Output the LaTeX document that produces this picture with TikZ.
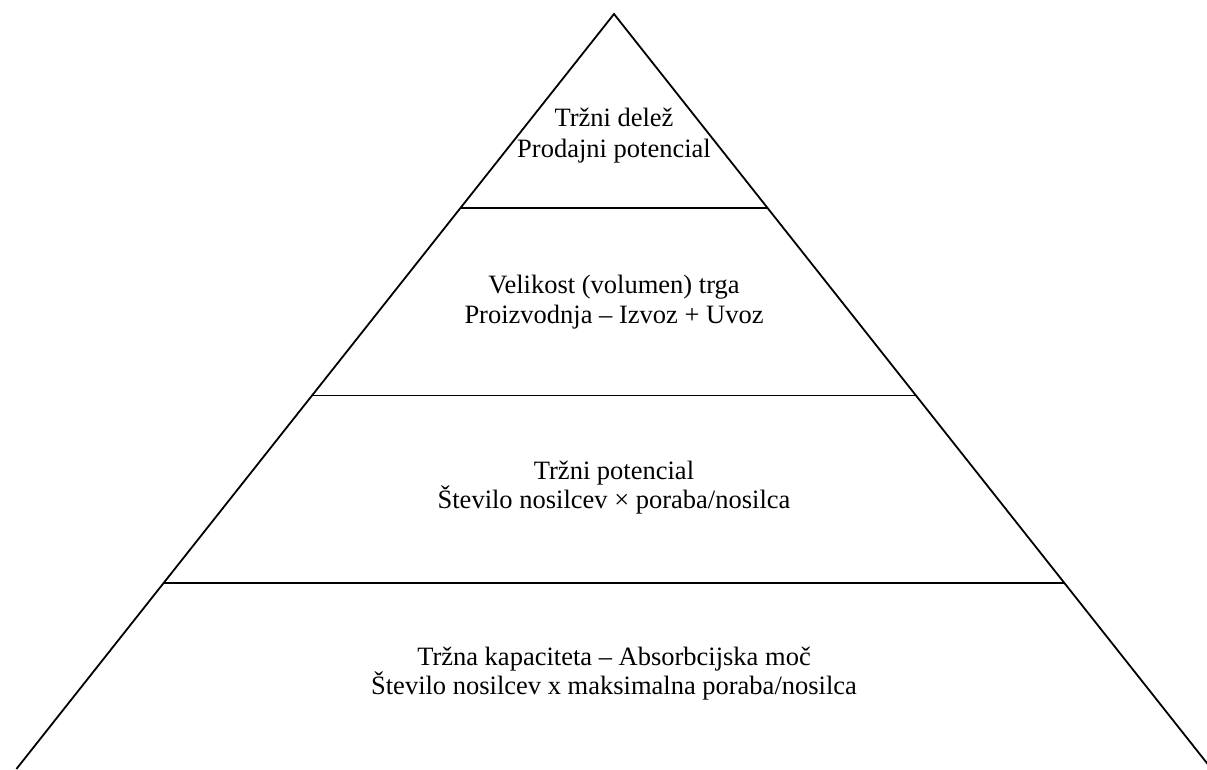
\documentclass[tikz,border=0pt]{standalone}
\usepackage{fontspec}
\setmainfont{Liberation Serif}
\begin{document}
\begin{tikzpicture}[x=1pt,y=-1pt,
  edge/.style={line width=1.8pt,line join=miter},
  label/.style={anchor=base,inner sep=0pt,font=\fontsize{26.5pt}{30pt}\selectfont}]
\useasboundingbox (0,0) rectangle (1207,769);
\clip (0,0) rectangle (1207,769);
% pyramid outline
\coordinate (apex) at (614,14);
\coordinate (bl) at (16.4,769);
\coordinate (br) at (1211.6,769);
\draw[edge] (bl) -- (apex) -- (br);
% level dividers
\coordinate (l1) at (460.4,208);   \coordinate (r1) at (767.6,208);
\coordinate (l2) at (312.1,395.5); \coordinate (r2) at (915.9,395.5);
\coordinate (l3) at (163.6,583);   \coordinate (r3) at (1064.4,583);
\draw[edge] (l1) -- (r1);
\draw[edge] (l2) -- (r2);
\draw[edge] (l3) -- (r3);
% level texts
\node[label] (t1a) at (614,126) {Tržni delež};
\node[label] (t1b) at (614,157) {Prodajni potencial};
\node[label] (t2a) at (614,293) {Velikost (volumen) trga};
\node[label] (t2b) at (614,323) {Proizvodnja – Izvoz + Uvoz};
\node[label] (t3a) at (614,479) {Tržni potencial};
\node[label] (t3b) at (614,508) {Število nosilcev × poraba/nosilca};
\node[label] (t4a) at (614,665) {Tržna kapaciteta – Absorbcijska moč};
\node[label] (t4b) at (614,694) {Število nosilcev x maksimalna poraba/nosilca};
\end{tikzpicture}
\end{document}
